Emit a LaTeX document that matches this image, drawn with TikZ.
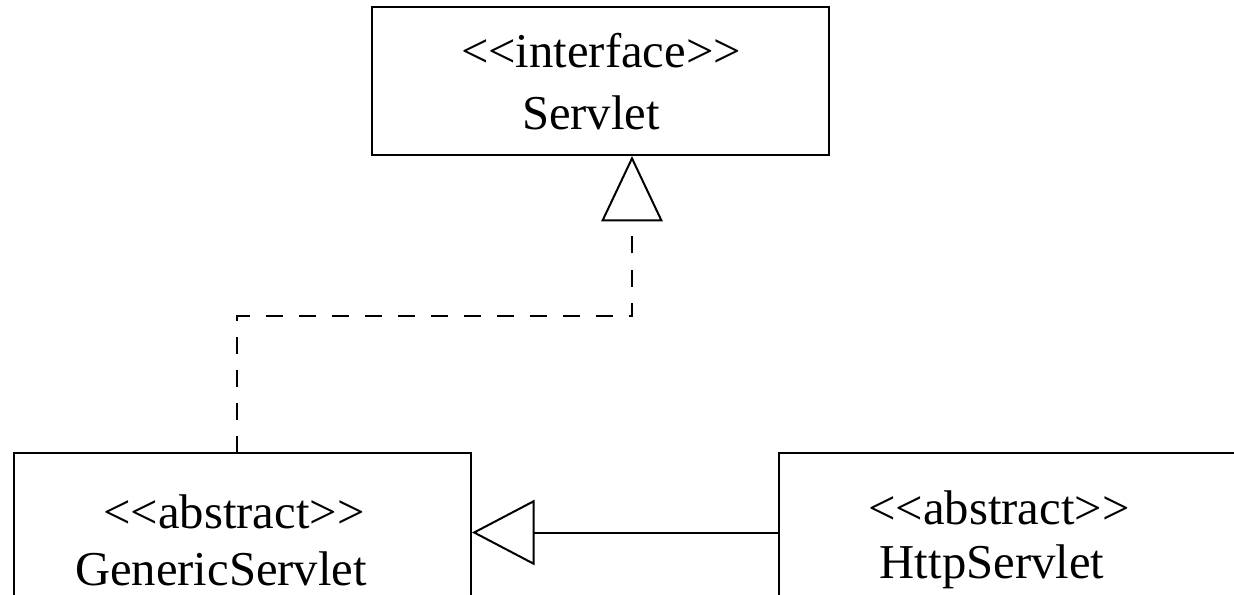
\documentclass[tikz,border=0pt]{standalone}
\usepackage{fontspec}
\setmainfont{Liberation Serif}
\usetikzlibrary{arrows.meta}
\begin{document}
\begin{tikzpicture}[x=0.75pt,y=-0.75pt,
  umlbox/.style={draw, line width=1.5pt, rectangle, minimum width=457*0.75pt, inner sep=0pt},
  umltext/.style={anchor=base, inner sep=0pt, font=\fontsize{36.5}{44}\selectfont},
  realize/.style={line width=1.5pt, dash pattern=on 12.75pt off 12pt,
    -{Triangle[open, length=49pt, width=46pt, line width=1.5pt]}},
  inherit/.style={line width=1.5pt,
    -{Triangle[open, length=47pt, width=49pt, line width=1.5pt]}}]
\useasboundingbox (0,0) rectangle (1234,595);
\clip (0,0) rectangle (1234,595);

% class boxes
\node[umlbox, minimum height=148*0.75pt] (servlet) at (600.5,81) {};
\node[umlbox, minimum height=160*0.75pt] (generic) at (242.5,532.5) {};
\node[umlbox, minimum height=160*0.75pt] (http) at (1007.5,532.5) {};

% stereotypes and names
\node[umltext] (servletst) at (601,68) {<{}<interface>{}>};
\node[umltext] (servletnm) at (591,130) {Servlet};
\node[umltext] (genericst) at (234,528) {<{}<abstract>{}>};
\node[umltext] (genericnm) at (221,585) {GenericServlet};
\node[umltext] (httpst) at (999,524) {<{}<abstract>{}>};
\node[umltext] (httpnm) at (992,578) {HttpServlet};

% GenericServlet realizes Servlet
\coordinate (gtop) at (237,452.5);
\coordinate (bend) at (632,316);
\draw[realize] (gtop) |- (bend) -- (bend |- servlet.south);

% HttpServlet extends GenericServlet
\draw[inherit] (http) -- (generic);
\end{tikzpicture}
\end{document}
